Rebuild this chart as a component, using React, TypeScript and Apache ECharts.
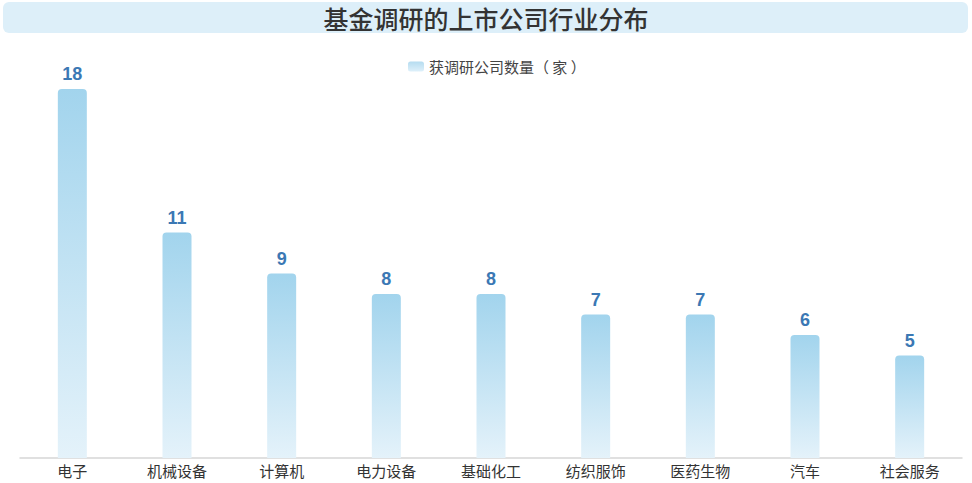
import React, { useEffect, useRef } from "react";
import * as echarts from "echarts";

const categories = ["电子", "机械设备", "计算机", "电力设备", "基础化工", "纺织服饰", "医药生物", "汽车", "社会服务"];
const companyCounts = [18, 11, 9, 8, 8, 7, 7, 6, 5];
const seriesName = "获调研公司数量（ 家 ）";
const titleText = "基金调研的上市公司行业分布";

export default function App() {
  const ref = useRef<HTMLDivElement>(null);
  useEffect(() => {
    document.body.style.margin = "0";
    const chart = echarts.init(ref.current!, undefined, { renderer: "svg" });
    const grad = new echarts.graphic.LinearGradient(0, 0, 0, 1, [
      { offset: 0, color: "#a2d4ed" },
      { offset: 1, color: "#e4f2fa" },
    ]);
    const legendGrad = new echarts.graphic.LinearGradient(0, 0, 0, 1, [
      { offset: 0, color: "#b5dcf0" },
      { offset: 1, color: "#def0fa" },
    ]);
    chart.setOption({
      animation: false,
      textStyle: { fontFamily: "'Noto Sans CJK SC', 'Noto Sans', sans-serif" },
      graphic: [
        {
          type: "rect",
          left: 3,
          top: 2,
          shape: { width: 965, height: 31, r: 6 },
          style: { fill: "#ddeff9" },
          z: 0,
        },
        {
          type: "text",
          x: 486,
          y: 18,
          style: {
            text: titleText,
            fontSize: 25,
            lineHeight: 28,
            fontWeight: 500,
            fill: "#333",
            align: "center",
            verticalAlign: "middle",
            fontFamily: "'Noto Sans CJK SC', sans-serif",
          },
          z: 1,
        },
      ],
      legend: {
        data: [{ name: seriesName, itemStyle: { color: legendGrad } }],
        top: 54,
        left: 403,
        itemWidth: 16,
        itemHeight: 10,
        itemGap: 8,
        textStyle: { fontSize: 15, color: "#444" },
      },
      grid: { left: 20, right: 10, top: 89, bottom: 25, containLabel: false },
      xAxis: {
        type: "category",
        data: categories,
        axisLine: { lineStyle: { color: "#d6d6d6", width: 1.5 } },
        axisTick: { show: false },
        axisLabel: { fontSize: 15, color: "#333", margin: 5 },
      },
      yAxis: {
        type: "value",
        min: 0,
        max: 18,
        show: false,
        splitLine: { show: false },
      },
      series: [
        {
          name: seriesName,
          type: "bar",
          data: companyCounts,
          barWidth: 29,
          itemStyle: { color: grad, borderRadius: [4, 4, 0, 0] },
          label: {
            show: true,
            position: "top",
            distance: 6,
            fontSize: 18,
            fontWeight: "bold",
            color: "#3b78b4",
            fontFamily: "Arial, 'Liberation Sans', sans-serif",
          },
        },
      ],
    });
    return () => chart.dispose();
  }, []);
  return <div ref={ref} style={{ width: 972, height: 483 }} />;
}
